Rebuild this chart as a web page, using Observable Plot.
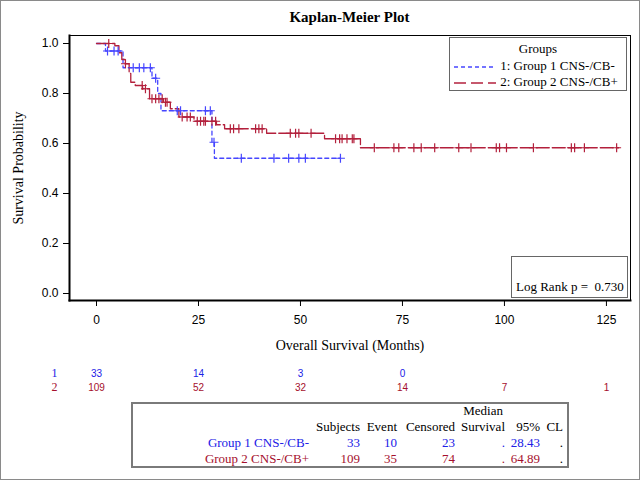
<!DOCTYPE html>
<html><head><meta charset="utf-8">
<script src="https://cdn.jsdelivr.net/npm/d3@7"></script>
<script src="https://cdn.jsdelivr.net/npm/@observablehq/plot@0.6"></script>
<style>
body{margin:0;background:#fff;}
#border{position:absolute;left:0;top:0;width:638px;height:478px;border:1px solid #8a8a8a;}
#title{position:absolute;left:69px;width:561px;top:9px;text-align:center;font:bold 15px "Liberation Serif",serif;}
#main{position:absolute;left:0;top:0;}
#risk{position:absolute;left:0;top:366px;}
#risk svg{overflow:visible;}
#main svg [aria-label="x-axis label"], #main svg [aria-label="y-axis label"]{font-family:"Liberation Serif",serif;font-size:14px;}
#legend{position:absolute;left:449px;top:37px;width:176px;height:52px;border:1px solid #666;background:#fff;font:13px "Liberation Serif",serif;}
#legend .ttl{position:absolute;left:0;width:176px;top:3px;text-align:center;}
#legend .row{position:absolute;left:3px;height:16px;white-space:nowrap;}
#legend .row svg{vertical-align:middle;}
#logrank{position:absolute;left:511px;top:256px;width:115px;height:40px;border:1px solid #666;background:#fff;font:13px "Liberation Serif",serif;}
#logrank span{position:absolute;left:4px;top:22px;white-space:pre;}
#table{position:absolute;left:131px;top:402px;width:434px;height:62px;border:2px solid #7a7a7a;font:13px "Liberation Serif",serif;}
.cell{position:absolute;white-space:nowrap;}
</style></head>
<body>
<div id="border"></div>
<div id="title">Kaplan-Meier Plot</div>
<div id="main"></div>
<div id="risk"></div>
<div id="legend"></div>
<div id="logrank"><span>Log Rank p =  0.730</span></div>
<div id="table"></div>
<script>
// ---- Data ----
const groupIds = ["1", "2"];
const groupNames = ["1: Group 1 CNS-/CB-", "2: Group 2 CNS-/CB+"];
// Group 1 step function (time, survival)
const g1Times = [0, 2.2, 6.5, 13.6, 15.0, 15.8, 28.3, 28.9];
const g1Surv  = [1.0, 0.970, 0.903, 0.861, 0.800, 0.731, 0.605, 0.541];
const g1End = 59.8;
const g1Censor = [2.7, 4.3, 5.3, 9.0, 10.5, 11.6, 13.2, 14.5, 19.8, 20.6, 26.7, 27.9, 28.8, 35.5, 43.5, 47.1, 49.6, 51.2, 59.8];
// Group 2 step function
const g2Times = [0, 4.5, 5.5, 6.2, 7.0, 8.0, 8.4, 9.5, 11.3, 13.0, 16.4, 18.1, 20.2, 23.9, 29.4, 31.4, 41.7, 55.9, 64.7];
const g2Surv  = [1.0, 0.991, 0.963, 0.936, 0.919, 0.880, 0.845, 0.832, 0.819, 0.779, 0.765, 0.739, 0.706, 0.689, 0.675, 0.659, 0.641, 0.619, 0.583];
const g2End = 128;
const g2Censor = [3.0, 7.1, 11.2, 12.0, 13.6, 14.5, 15.3, 16.1, 16.9, 17.3, 21.0, 22.2, 23.0, 24.7, 25.5, 26.3, 26.7, 28.3, 29.2, 32.8, 33.6, 34.9,
  39.0, 39.8, 40.6, 47.5, 48.8, 49.6, 52.6, 58.6, 59.6, 60.2, 61.4, 62.7, 63.1,
  68.1, 72.9, 74.1, 77.8, 79.6, 82.9, 88.8, 91.8, 98.0, 98.8, 100.5, 107.1, 116.4, 117.2, 119.6, 127.5];
// At-risk table
const riskTimes = [0, 25, 50, 75, 100, 125];
const risk1 = [33, 14, 3, 0];
const risk2 = [109, 52, 32, 14, 7, 1];
// Summary table
const tblNames = ["Group 1 CNS-/CB-", "Group 2 CNS-/CB+"];
const tblSubjects = [33, 109];
const tblEvents = [10, 35];
const tblCensored = [23, 74];
const tblMedian = [".", "."];
const tblLower = ["28.43", "64.89"];
const tblUpper = [".", "."];
const xTicks = [0, 25, 50, 75, 100, 125];
const yTicks = [0, 0.2, 0.4, 0.6, 0.8, 1.0];

// ---- Styles ----
const C1 = "#4646ff", C2 = "#b3203c";
const T1 = "#2020e6", T2 = "#a50f2d";
const colorScale = {domain: groupIds, range: [C1, C2]};

const stepAt = (times, surv, t) => { let s = surv[0]; for (let i = 0; i < times.length; i++) if (times[i] <= t) s = surv[i]; return s; };
const curve = (times, surv, end, g) => times.map((t, i) => ({t, s: surv[i], g})).concat([{t: end, s: surv[surv.length - 1], g}]);
const cens = (ct, times, surv, g) => ct.map(t => ({t, s: stepAt(times, surv, t), g}));

const c1 = curve(g1Times, g1Surv, g1End, "1");
const c2 = curve(g2Times, g2Surv, g2End, "2");
const k1 = cens(g1Censor, g1Times, g1Surv, "1");
const k2 = cens(g2Censor, g2Times, g2Surv, "2");

const xDomain = [-6.62, 130.9];
const main = Plot.plot({
  width: 640, height: 360,
  marginLeft: 69, marginRight: 10, marginTop: 35, marginBottom: 60,
  style: {fontFamily: "'Liberation Sans', Arial, sans-serif", fontSize: "12px", background: "transparent"},
  x: {domain: xDomain, label: "Overall Survival (Months)", labelArrow: "none"},
  y: {domain: [-0.028, 1.032], label: "Survival Probability", labelArrow: "none"},
  color: colorScale,
  marks: [
    Plot.frame({stroke: "black", strokeWidth: 1}),
    Plot.frame({anchor: "left", stroke: "black", strokeWidth: 2}),
    Plot.frame({anchor: "bottom", stroke: "black", strokeWidth: 2}),
    Plot.line(c1, {x: "t", y: "s", curve: "step-after", stroke: C1, strokeWidth: 1.3, strokeDasharray: "4,3"}),
    Plot.line(c2, {x: "t", y: "s", curve: "step-after", stroke: C2, strokeWidth: 1.3, strokeDasharray: "13,3"}),
    Plot.dot(k1, {x: "t", y: "s", symbol: "plus", r: 3, stroke: C1, strokeWidth: 1.2}),
    Plot.dot(k2, {x: "t", y: "s", symbol: "plus", r: 3, stroke: C2, strokeWidth: 1.2}),
    Plot.axisX({ticks: xTicks, tickSize: 6, tickPadding: 9, label: "Overall Survival (Months)", labelArrow: "none", labelAnchor: "center", labelOffset: 49}),
    Plot.axisY({ticks: yTicks, tickFormat: ".1f", tickSize: 6, tickPadding: 5, label: "Survival Probability", labelArrow: "none", labelAnchor: "center", labelOffset: 56})
  ]
});
document.getElementById("main").appendChild(main);

// At-risk rows
const riskData = [];
risk1.forEach((n, i) => riskData.push({t: riskTimes[i], g: "1", n}));
risk2.forEach((n, i) => riskData.push({t: riskTimes[i], g: "2", n}));
const risk = Plot.plot({
  width: 640, height: 28,
  marginLeft: 69, marginRight: 10, marginTop: 0, marginBottom: 0,
  style: {fontFamily: "'Liberation Sans', Arial, sans-serif", fontSize: "10px", background: "transparent"},
  x: {domain: xDomain, axis: null},
  y: {type: "point", domain: groupIds, axis: null, padding: 0.5},
  marks: [
    Plot.text(riskData, {x: "t", y: "g", text: "n", fill: d => d.g === "1" ? T1 : T2, fontSize: 10}),
    Plot.text(groupIds, {y: d => d, text: d => d, frameAnchor: "left", dx: -12, textAnchor: "end",
      fill: d => d === "1" ? T1 : T2, fontFamily: "'Liberation Serif', serif", fontSize: 12})
  ]
});
document.getElementById("risk").appendChild(risk);

// Legend
const leg = document.getElementById("legend");
leg.innerHTML = `<div class="ttl">Groups</div>`;
const dashes = ["4,3", "12,5"], lcol = [C1, C2];
groupNames.forEach((nm, i) => {
  const r = document.createElement("div");
  r.className = "row";
  r.style.top = (20 + i * 16) + "px";
  r.innerHTML = `<svg width="44" height="10"><line x1="1" x2="43" y1="5" y2="5" stroke="${lcol[i]}" stroke-opacity="0.75" stroke-width="2" stroke-dasharray="${dashes[i]}"/></svg> ${nm}`;
  leg.appendChild(r);
});

// Summary table
const tbl = document.getElementById("table");
const put = (txt, right, cy, color) => {
  const d = document.createElement("div");
  d.className = "cell";
  d.textContent = txt;
  d.style.right = (434 - (right - 133)) + "px";
  d.style.top = (cy - 403 - 8) + "px";
  if (color) d.style.color = color;
  tbl.appendChild(d);
};
const colR = [309, 360, 397, 455, 505, 540, 563];
put("Median", 503, 410);
["Subjects", "Event", "Censored", "Survival", "95%", "CL"].forEach((h, i) => put(h, colR[i + 1], 426));
const rowY = [442, 458], rowC = [T1, T2];
tblNames.forEach((nm, i) => {
  const vals = [nm, tblSubjects[i], tblEvents[i], tblCensored[i], tblMedian[i], tblLower[i], tblUpper[i]];
  vals.forEach((v, j) => put(String(v), colR[j], rowY[i], j === 6 ? "#000" : rowC[i]));
});
</script>
</body></html>
